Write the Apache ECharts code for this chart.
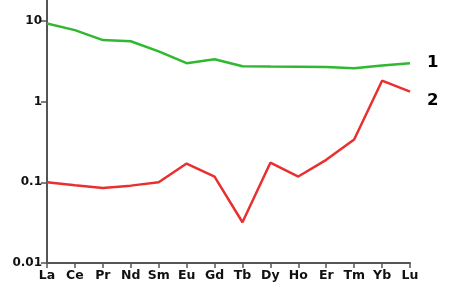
<!DOCTYPE html>
<html><head><meta charset="utf-8">
<script src="https://cdn.jsdelivr.net/npm/echarts@6/dist/echarts.min.js"></script>
<style>html,body{margin:0;padding:0;background:#fff}#c{width:449px;height:293px}</style>
</head><body><div id="c"></div>
<script>
const categories = ['La','Ce','Pr','Nd','Sm','Eu','Gd','Tb','Dy','Ho','Er','Tm','Yb','Lu'];
const series1 = [9.3, 7.7, 5.8, 5.6, 4.2, 3.0, 3.35, 2.75, 2.72, 2.7, 2.68, 2.6, 2.8, 3.0];
const series2 = [0.1, 0.092, 0.085, 0.091, 0.1, 0.171, 0.118, 0.032, 0.175, 0.118, 0.19, 0.34, 1.82, 1.33];
const yTicks = [0.01, 0.1, 1, 10];
const seriesNames = ['1', '2'];

const chart = echarts.init(document.getElementById('c'));
const ff = 'DejaVu Sans';
chart.setOption({
  animation: false,
  grid: {left: 47, right: 39, top: 0, bottom: 30},
  xAxis: {
    type: 'category', data: categories, boundaryGap: false,
    axisLine: {lineStyle: {color: '#555', width: 2}},
    axisTick: {show: true, inside: false, interval: 0, length: 5, lineStyle: {color: '#555', width: 1.5}},
    axisLabel: {interval: 0, color: '#111', fontWeight: 'bold', fontSize: 12.5, fontFamily: ff, margin: 6},
    splitLine: {show: false}
  },
  yAxis: {
    type: 'log', logBase: 10, min: 0.01, max: 18.2,
    axisLine: {show: true, lineStyle: {color: '#555', width: 2}},
    axisTick: {show: true, length: 6, lineStyle: {color: '#555', width: 1.5}, customValues: yTicks},
    axisLabel: {color: '#111', fontWeight: 'bold', fontSize: 12, fontFamily: ff, margin: 5,
      customValues: yTicks, formatter: v => String(+(+v).toPrecision(3))},
    splitLine: {show: false}
  },
  series: [
    {name: seriesNames[0], type: 'line', data: series1, symbol: 'none',
      lineStyle: {color: '#30b830', width: 2.5},
      endLabel: {show: true, formatter: seriesNames[0], color: '#000', fontWeight: 'bold', fontSize: 16.5, fontFamily: ff, distance: 17}},
    {name: seriesNames[1], type: 'line', data: series2, symbol: 'none',
      lineStyle: {color: '#e83030', width: 2.5},
      endLabel: {show: true, formatter: seriesNames[1], color: '#000', fontWeight: 'bold', fontSize: 16.5, fontFamily: ff, distance: 17, offset: [0, 9]}}
  ]
});
</script></body></html>
